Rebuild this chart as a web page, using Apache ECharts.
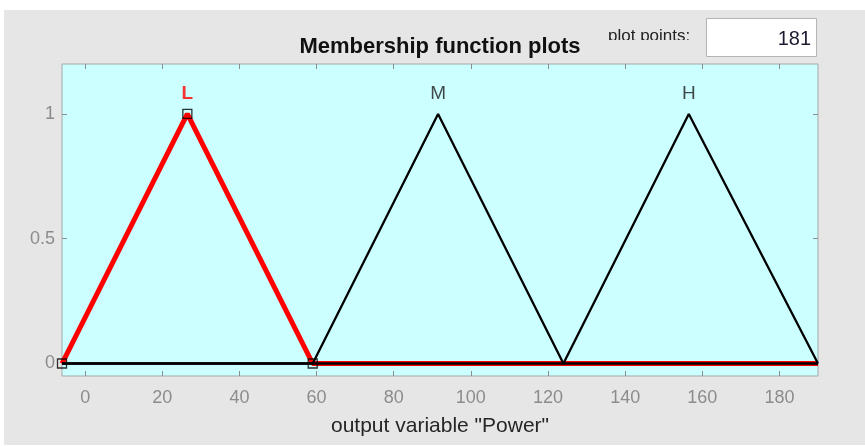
<!DOCTYPE html>
<html>
<head>
<meta charset="utf-8">
<script src="https://cdn.jsdelivr.net/npm/echarts@6/dist/echarts.min.js"></script>
<style>
  html, body { margin: 0; padding: 0; background: #ffffff; }
  #chart { width: 865px; height: 446px; }
</style>
</head>
<body>
<div id="chart"></div>
<script>
// Output variable range and tick positions
const xRange = [-6, 190];
const yRange = [-0.05, 1.2];
const xTicks = [0, 20, 40, 60, 80, 100, 120, 140, 160, 180];
const yTicks = [0, 0.5, 1];

// Membership function vertices (x, degree)
const lowX = [-6, 26.5, 59, 190];
const lowY = [0, 1, 0, 0];
const midX = [-6, 59, 91.5, 124, 190];
const midY = [0, 0, 1, 0, 0];
const highX = [-6, 124, 156.5, 190];
const highY = [0, 0, 1, 0];

// Names drawn above each peak
const mfNames = ['L', 'M', 'H'];
const mfPeaks = [26.5, 91.5, 156.5];
const nameLevel = 1.08;

const plotPoints = '181';

const pair = (xs, ys) => xs.map((x, i) => [x, ys[i]]);

const tickGray = '#8c8c8c';
const font = '"Liberation Sans", Arial, Helvetica, sans-serif';

const chart = echarts.init(document.getElementById('chart'), null, { renderer: 'canvas' });

const hiddenLine = { show: false, onZero: false };
const tick = (values) => ({ show: true, inside: true, length: 5, lineStyle: { color: tickGray }, customValues: values });

const option = {
  animation: false,
  backgroundColor: '#ffffff',
  grid: {
    left: 62, top: 64, width: 756, height: 312,
    show: true,
    backgroundColor: '#ccffff',
    borderColor: '#a6a6a6',
    borderWidth: 1
  },
  xAxis: [
    {
      type: 'value', min: xRange[0], max: xRange[1],
      name: 'output variable "Power"',
      nameLocation: 'middle', nameGap: 40,
      nameTextStyle: { color: '#262626', fontSize: 21, fontFamily: font },
      axisLine: hiddenLine,
      axisTick: tick(xTicks),
      axisLabel: { show: true, color: tickGray, fontSize: 18, fontFamily: font, margin: 13, customValues: xTicks },
      splitLine: { show: false }
    },
    {
      type: 'value', position: 'top', min: xRange[0], max: xRange[1],
      axisLine: hiddenLine,
      axisTick: tick(xTicks),
      axisLabel: { show: false },
      splitLine: { show: false }
    }
  ],
  yAxis: [
    {
      type: 'value', min: yRange[0], max: yRange[1],
      axisLine: hiddenLine,
      axisTick: tick(yTicks),
      axisLabel: { show: true, color: tickGray, fontSize: 18, fontFamily: font, margin: 7, customValues: yTicks },
      splitLine: { show: false }
    },
    {
      type: 'value', position: 'right', min: yRange[0], max: yRange[1],
      axisLine: hiddenLine,
      axisTick: tick(yTicks),
      axisLabel: { show: false },
      splitLine: { show: false }
    }
  ],
  series: [
    {
      name: mfNames[0], type: 'line', data: pair(lowX, lowY),
      symbol: 'none', z: 2,
      lineStyle: { color: '#ff0000', width: 5 }
    },
    {
      name: mfNames[1], type: 'line', data: pair(midX, midY),
      symbol: 'none', z: 3,
      lineStyle: { color: '#000000', width: 2.3 }
    },
    {
      name: mfNames[2], type: 'line', data: pair(highX, highY),
      symbol: 'none', z: 3,
      lineStyle: { color: '#000000', width: 2.3 }
    },
    {
      // square handles on the selected function's vertices
      type: 'scatter', z: 4,
      data: pair(lowX.slice(0, 3), lowY.slice(0, 3)),
      symbol: 'rect', symbolSize: 9,
      itemStyle: { color: 'rgba(0,0,0,0)', borderColor: '#000000', borderWidth: 1.3 }
    },
    {
      type: 'scatter', z: 5,
      symbolSize: 0,
      data: mfNames.map((n, i) => ({
        name: n,
        value: [mfPeaks[i], nameLevel],
        label: {
          show: true, position: 'inside', formatter: '{b}',
          color: i === 0 ? '#ff0000' : '#1a1a1a',
          fontWeight: i === 0 ? 'bold' : 'normal',
          fontSize: 19, fontFamily: font
        }
      }))
    }
  ],
  graphic: [
    // panel background
    { type: 'rect', z: -10, shape: { x: 4, y: 10, width: 861, height: 435 }, style: { fill: '#e6e6e6' } },
    {
      type: 'text', z: 10, x: 440, y: 47,
      style: { text: 'Membership function plots', fill: '#111111', font: 'bold 22px ' + font, align: 'center', verticalAlign: 'middle' }
    },
    {
      type: 'text', z: 10, x: 608, y: 28,
      style: { text: 'plot points:', fill: '#222222', font: '17px ' + font, align: 'left', verticalAlign: 'top' }
    },
    // caption box edge hides the lower part of the caption
    { type: 'rect', z: 11, shape: { x: 600, y: 40, width: 100, height: 12 }, style: { fill: '#e6e6e6' } },
    { type: 'rect', z: 11, shape: { x: 706.5, y: 18.5, width: 110, height: 38 }, style: { fill: '#ffffff', stroke: '#b4b4b4', lineWidth: 1 } },
    {
      type: 'text', z: 12, x: 811, y: 39,
      style: { text: plotPoints, fill: '#1c1c30', font: '20px ' + font, align: 'right', verticalAlign: 'middle' }
    }
  ]
};

chart.setOption(option);
</script>
</body>
</html>
